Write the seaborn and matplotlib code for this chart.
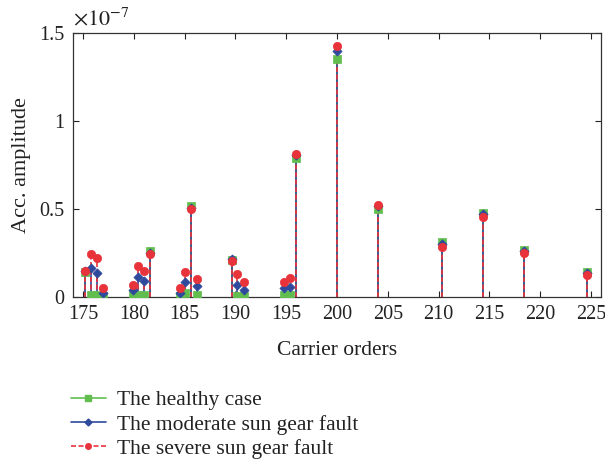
import numpy as np
import pandas as pd
import matplotlib
matplotlib.use("Agg")
import matplotlib.pyplot as plt
import seaborn as sns
from matplotlib.lines import Line2D
from matplotlib.ticker import FuncFormatter

# ---- data (amplitudes in units of 1e-7) ----
orders = [175.2, 175.8, 176.4, 177.0, 179.9, 180.4, 181.0, 181.6,
          184.5, 185.0, 185.6, 186.2, 189.7, 190.2, 190.8,
          194.8, 195.4, 196.0, 200.0, 204.0, 210.3, 214.4, 218.4, 224.6]
healthy = [0.14, 0.01, 0.01, 0.005, 0.01, 0.01, 0.01, 0.26,
           0.005, 0.02, 0.515, 0.01, 0.21, 0.005, 0.005,
           0.01, 0.01, 0.79, 1.35, 0.50, 0.31, 0.48, 0.265, 0.14]
moderate = [0.145, 0.163, 0.138, 0.025, 0.04, 0.115, 0.093, 0.25,
            0.02, 0.083, 0.505, 0.06, 0.217, 0.068, 0.04,
            0.053, 0.059, 0.805, 1.40, 0.515, 0.30, 0.47, 0.26, 0.135]
severe = [0.15, 0.244, 0.22, 0.05, 0.068, 0.176, 0.148, 0.245,
          0.049, 0.144, 0.50, 0.102, 0.205, 0.13, 0.083,
          0.087, 0.106, 0.81, 1.425, 0.523, 0.285, 0.455, 0.25, 0.125]
series_names = ["The healthy case", "The moderate sun gear fault", "The severe sun gear fault"]
x_ticks = [175, 180, 185, 190, 195, 200, 205, 210, 215, 220, 225]
y_ticks = [0, 0.5, 1.0, 1.5]
scale_label = r"$\times10^{-7}$"

colors = {"The healthy case": "#62bd4f",
          "The moderate sun gear fault": "#2f4a9c",
          "The severe sun gear fault": "#e8333b"}
markers = {"The healthy case": "s",
           "The moderate sun gear fault": "D",
           "The severe sun gear fault": "o"}
msizes = {"The healthy case": 40, "The moderate sun gear fault": 22,
          "The severe sun gear fault": 36}
lstyles = {"The healthy case": "-", "The moderate sun gear fault": "-",
           "The severe sun gear fault": (0, (3, 1.5))}

frames = []
for name, vals in zip(series_names, [healthy, moderate, severe]):
    frames.append(pd.DataFrame({"order": orders, "amp": vals, "series": name}))
df = pd.concat(frames, ignore_index=True)

sns.set_style("ticks")
plt.rcParams["font.family"] = ["Liberation Serif", "DejaVu Serif"]
plt.rcParams["mathtext.fontset"] = "stix"

fig = plt.figure(figsize=(6.05, 4.63), dpi=100)
ax = fig.add_axes([73 / 605, 1 - 297 / 463, (601 - 73) / 605, (297 - 33) / 463])

for name in series_names:
    sub = df[df["series"] == name]
    ax.vlines(sub["order"], 0, sub["amp"], colors=colors[name],
              linestyles=lstyles[name], linewidth=1.2, zorder=2)
    sns.scatterplot(data=sub, x="order", y="amp", ax=ax, color=colors[name],
                    marker=markers[name], s=msizes[name], edgecolor=colors[name],
                    linewidth=0.5, legend=False, zorder=3)

ax.set_xlim(174, 226)
ax.set_ylim(0, 1.5)
ax.set_xticks(x_ticks)
ax.set_yticks(y_ticks)
ax.yaxis.set_major_formatter(FuncFormatter(lambda v, p: f"{v:g}"))

ax.tick_params(direction="in", top=True, right=True, length=4, width=0.8,
               labelsize=14.5, colors="#222222", pad=6)
for sp in ax.spines.values():
    sp.set_visible(True)
    sp.set_linewidth(0.9)
    sp.set_color("#333333")

ax.text(0.0, 1.012, scale_label, transform=ax.transAxes, ha="left", va="bottom",
        fontsize=16, color="#222222")

ax.set_xlabel("Carrier orders", fontsize=15.5, labelpad=12, color="#222222")
ax.set_ylabel("Acc. amplitude", fontsize=16, labelpad=6, color="#222222")

handles = [Line2D([0], [0], color=colors[n], lw=1.2, ls=lstyles[n],
                  marker=markers[n], markersize=4 if n != series_names[1] else 3.5,
                  markerfacecolor=colors[n], markeredgecolor=colors[n])
           for n in series_names]
fig.legend(handles, series_names, loc="upper left",
           bbox_to_anchor=(56 / 605, 1 - 375 / 463), frameon=False,
           fontsize=15.5, handlelength=1.6, handletextpad=0.55, labelspacing=0.2,
           labelcolor="#222222", borderpad=0.2)

fig.savefig("out.png", dpi=100)
